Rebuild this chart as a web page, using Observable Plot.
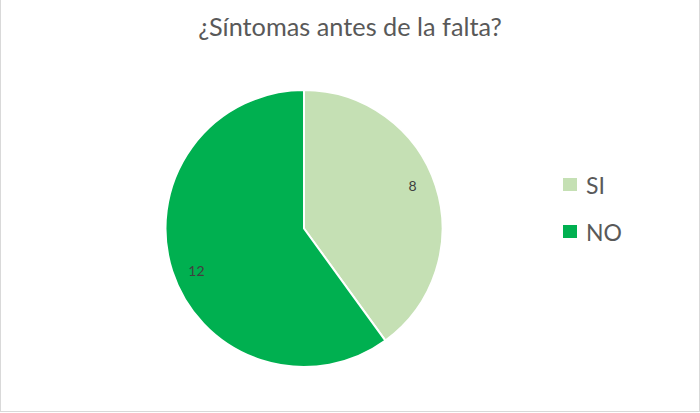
<!DOCTYPE html>
<html>
<head>
<meta charset="utf-8">
<script src="https://cdn.jsdelivr.net/npm/d3@7"></script>
<script src="https://cdn.jsdelivr.net/npm/@observablehq/plot@0.6"></script>
<style>
  html, body { margin: 0; padding: 0; background: #fff; }
  #frame { position: relative; width: 698px; height: 411px; border: 1px solid #D9D9D9; border-top: none; overflow: hidden; font-family: Lato, "Open Sans", sans-serif; }
  #title { position: absolute; left: 0; top: 11px; width: 698px; text-align: center; font-size: 25.3px; color: #595959; }
  #chart { position: absolute; left: 0; top: 60px; }
  #legend { position: absolute; left: 562px; top: 161px; font-size: 23px; color: #595959; }
  .item { display: flex; align-items: center; height: 47px; }
  .sw { width: 14px; height: 13px; margin-right: 9px; }
</style>
</head>
<body>
<div id="frame">
  <div id="title">¿Síntomas antes de la falta?</div>
  <div id="chart"></div>
  <div id="legend"></div>
</div>
<script>
const categories = ["SI", "NO"];
const values = [8, 12];
const colors = ["#C5E0B4", "#00B050"];

const data = categories.map((c, i) => ({category: c, value: values[i]}));
const arcs = d3.pie().sort(null).value(d => d.value)(data);
// label positions in unit-circle coordinates (from data angles)
const labelRx = 0.82, labelRy = 0.99;
const labels = arcs.map(a => {
  const m = (a.startAngle + a.endAngle) / 2;
  return {category: a.data.category, value: a.data.value, x: labelRx * Math.sin(m), y: labelRy * Math.cos(m)};
});

const H = 353;
const cx = 303, cy = 228.5 - 60, R = 138.5;

const pieMark = (index, scales, values_, dims) => {
  const x0 = scales.x(0), y0 = scales.y(0), r = scales.x(1) - scales.x(0);
  const arcGen = d3.arc().innerRadius(0).outerRadius(r);
  const g = d3.create("svg:g").attr("transform", `translate(${x0},${y0})`);
  g.selectAll("path").data(arcs).join("path")
    .attr("d", arcGen)
    .attr("fill", d => scales.color(d.data.category))
    .attr("stroke", "#fff")
    .attr("stroke-width", 2)
    .attr("stroke-linejoin", "round");
  return g.node();
};

const plot = Plot.plot({
  width: 698,
  height: H,
  margin: 0,
  x: {domain: [-1, 1], range: [cx - R, cx + R], axis: null},
  y: {domain: [-1, 1], range: [cy - R, cy + R], axis: null},
  color: {domain: categories, range: colors},
  style: {fontFamily: "Lato, 'Open Sans', sans-serif", background: "transparent"},
  marks: [
    pieMark,
    Plot.text(labels, {x: "x", y: d => -d.y, text: d => String(d.value), fill: "#404040", fontSize: 14})
  ]
});
document.getElementById("chart").appendChild(plot);

const legend = d3.select("#legend");
categories.forEach((c, i) => {
  const it = legend.append("div").attr("class", "item");
  it.append("div").attr("class", "sw").style("background", colors[i]);
  it.append("span").text(c);
});
</script>
</body>
</html>
